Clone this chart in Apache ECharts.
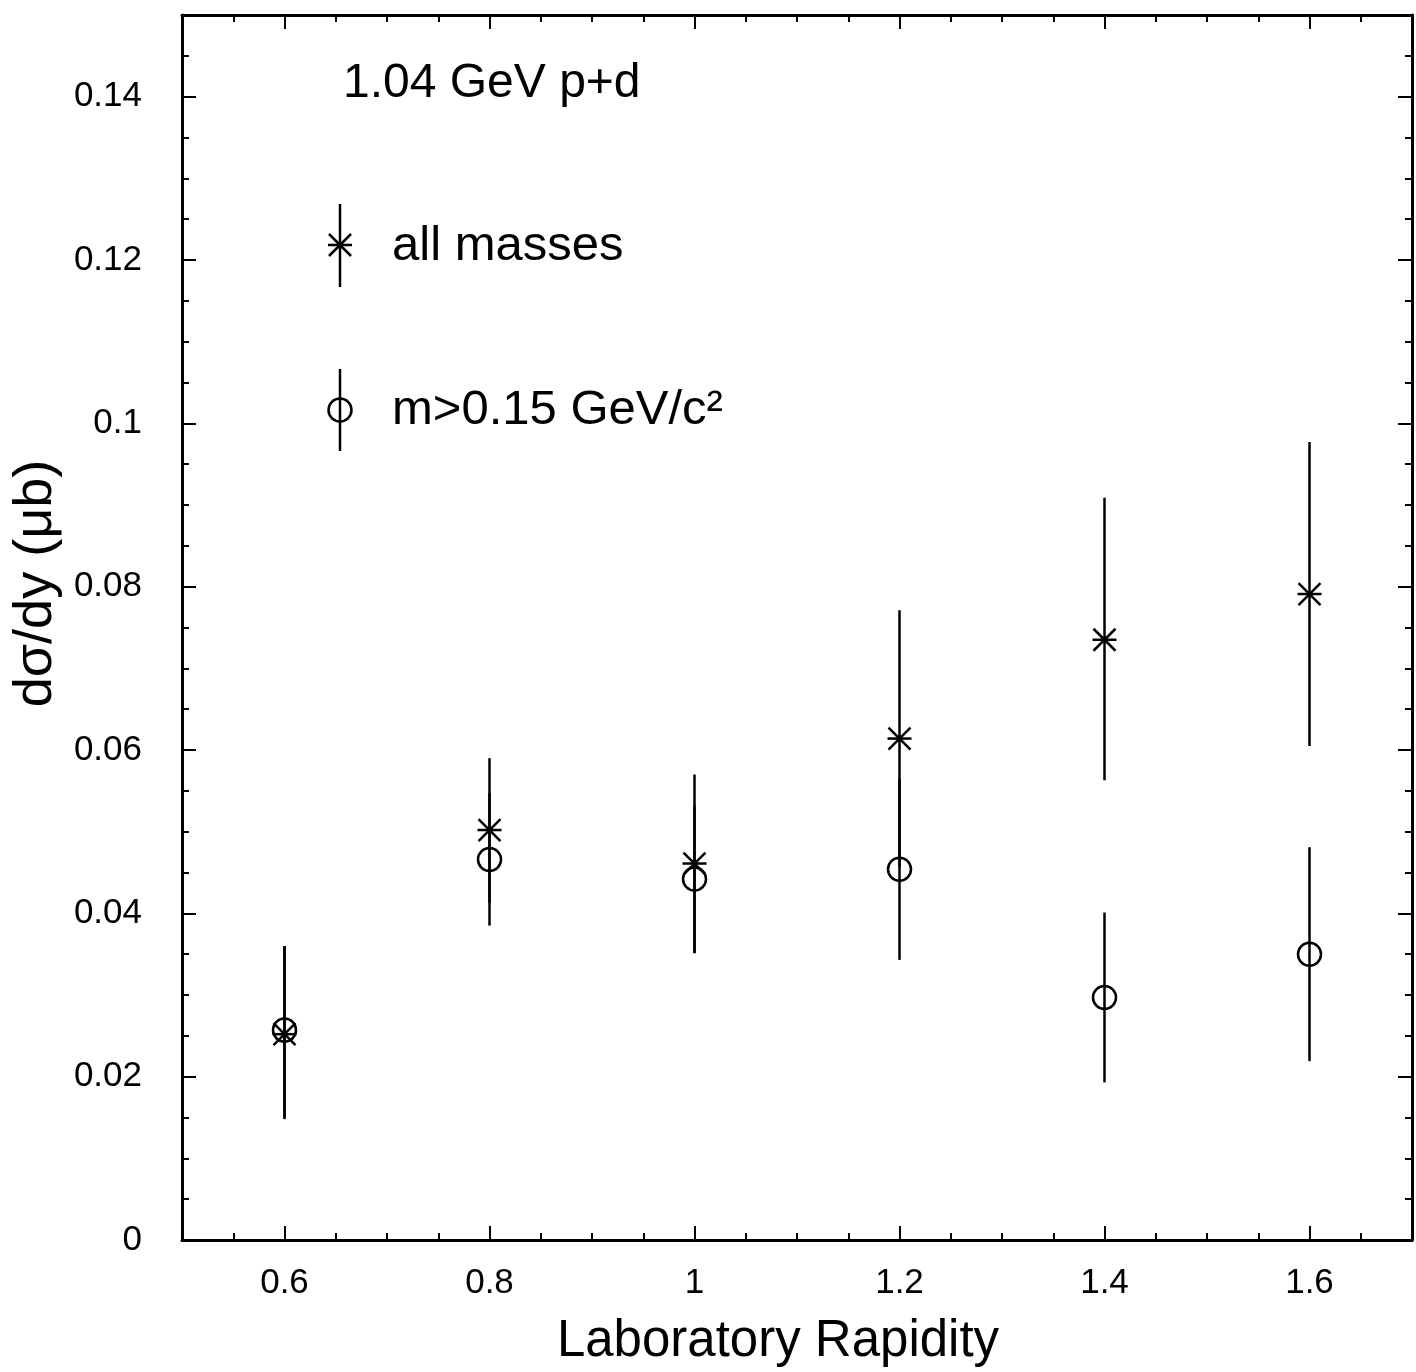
<!DOCTYPE html>
<html>
<head>
<meta charset="utf-8">
<script src="https://cdn.jsdelivr.net/npm/echarts@6/dist/echarts.min.js"></script>
<style>
html,body{margin:0;padding:0;background:#fff;}
#chart{width:1416px;height:1372px;}
</style>
</head>
<body>
<div id="chart"></div>
<script>
// ---- data ----
const rapidity = [0.6, 0.8, 1.0, 1.2, 1.4, 1.6];
const allMasses = [0.0252, 0.0502, 0.0461, 0.0614, 0.0735, 0.0791];
const allMassesLow = [0.0148, 0.0413, 0.0351, 0.0457, 0.0563, 0.0605];
const allMassesHigh = [0.0360, 0.0590, 0.0570, 0.0771, 0.0909, 0.0977];
const heavy = [0.0257, 0.0466, 0.0442, 0.0454, 0.0297, 0.0350];
const heavyLow = [0.0150, 0.0385, 0.0352, 0.0343, 0.0193, 0.0219];
const heavyHigh = [0.0360, 0.0547, 0.0532, 0.0565, 0.0401, 0.0481];
const xTickLabels = [0.6, 0.8, 1.0, 1.2, 1.4, 1.6];
const yTickLabels = [0, 0.02, 0.04, 0.06, 0.08, 0.1, 0.12, 0.14];
const titleText = '1.04 GeV p+d';
const legendAll = 'all masses';
const legendHeavy = 'm>0.15 GeV/c\u00B2';

const FONT = "'Liberation Sans', Arial, sans-serif";
const LW = 2.5;

function fmt(v){ return String(+(+v).toFixed(3)); }

function makeRender(kind){
  return function(params, api){
    const x = api.value(0), y = api.value(1), lo = api.value(2), hi = api.value(3);
    const p = api.coord([x, y]);
    const pl = api.coord([x, lo]);
    const ph = api.coord([x, hi]);
    const st = {stroke:'#000', lineWidth: LW, fill: null};
    const ch = [{type:'line', shape:{x1:p[0], y1:pl[1], x2:p[0], y2:ph[1]}, style:st}];
    if (kind === 'star') {
      const s = 12, d = 11;
      ch.push({type:'line', shape:{x1:p[0]-s, y1:p[1], x2:p[0]+s, y2:p[1]}, style:st});
      ch.push({type:'line', shape:{x1:p[0]-d, y1:p[1]-d, x2:p[0]+d, y2:p[1]+d}, style:st});
      ch.push({type:'line', shape:{x1:p[0]-d, y1:p[1]+d, x2:p[0]+d, y2:p[1]-d}, style:st});
    } else {
      ch.push({type:'circle', shape:{cx:p[0], cy:p[1], r:11.5}, style:{stroke:'#000', lineWidth:LW, fill:'none'}});
    }
    return {type:'group', children: ch};
  };
}

const starData = rapidity.map((x,i)=>[x, allMasses[i], allMassesLow[i], allMassesHigh[i]]);
const circData = rapidity.map((x,i)=>[x, heavy[i], heavyLow[i], heavyHigh[i]]);

const axisLineStyle = {show:true, onZero:false, lineStyle:{color:'#000', width:3}};
const noLine = {show:false, onZero:false};
const tickStyle = {color:'#000', width:2};

function xAxisPair(pos, withLabels){
  const minor = {type:'value', gridIndex:0, position:pos, min:0.5, max:1.7, interval:0.05,
    axisLine:axisLineStyle, axisTick:{show:true, inside:true, length:7, lineStyle:tickStyle},
    axisLabel:{show:false}, splitLine:{show:false}};
  const major = {type:'value', gridIndex:0, position:pos, min:0.5, max:1.7, interval:0.05,
    axisLine:noLine, axisTick:{show:true, inside:true, length:14, customValues:xTickLabels, lineStyle:tickStyle},
    axisLabel: withLabels ? {show:true, customValues:xTickLabels, formatter:fmt, color:'#000', fontSize:35, fontFamily:FONT, margin:26} : {show:false},
    splitLine:{show:false}};
  if (withLabels) {
    major.name = 'Laboratory Rapidity';
    major.nameLocation = 'middle';
    major.nameGap = 76;
    major.nameTextStyle = {color:'#000', fontSize:51, fontFamily:FONT, padding:[0,38,0,0]};
  }
  return [minor, major];
}
function yAxisPair(pos, withLabels){
  const minor = {type:'value', gridIndex:0, position:pos, min:0, max:0.15, interval:0.005,
    axisLine:axisLineStyle, axisTick:{show:true, inside:true, length:7, lineStyle:tickStyle},
    axisLabel:{show:false}, splitLine:{show:false}};
  const major = {type:'value', gridIndex:0, position:pos, min:0, max:0.15, interval:0.005,
    axisLine:noLine, axisTick:{show:true, inside:true, length:14, customValues:yTickLabels, lineStyle:tickStyle},
    axisLabel: withLabels ? {show:true, customValues:yTickLabels, formatter:fmt, color:'#000', fontSize:35, fontFamily:FONT, margin:40} : {show:false},
    splitLine:{show:false}};
  if (withLabels) {
    major.name = 'd\u03C3/dy (\u03BCb)';
    major.nameLocation = 'middle';
    major.nameGap = 114;
    major.nameRotate = 90;
    major.nameTextStyle = {color:'#000', fontSize:54, fontFamily:FONT, padding:[0,0,0,88]};
  }
  return [minor, major];
}

const chart = echarts.init(document.getElementById('chart'), null, {renderer:'canvas'});

function starIcon(cx, cy, top, bottom){
  const st = {stroke:'#000', lineWidth:LW};
  const s = 12, d = 11;
  return [
    {type:'line', shape:{x1:cx, y1:top, x2:cx, y2:bottom}, style:st},
    {type:'line', shape:{x1:cx-s, y1:cy, x2:cx+s, y2:cy}, style:st},
    {type:'line', shape:{x1:cx-d, y1:cy-d, x2:cx+d, y2:cy+d}, style:st},
    {type:'line', shape:{x1:cx-d, y1:cy+d, x2:cx+d, y2:cy-d}, style:st}
  ];
}
function circIcon(cx, cy, top, bottom){
  return [
    {type:'line', shape:{x1:cx, y1:top, x2:cx, y2:bottom}, style:{stroke:'#000', lineWidth:LW}},
    {type:'circle', shape:{cx:cx, cy:cy, r:11.5}, style:{stroke:'#000', lineWidth:LW, fill:'none'}}
  ];
}

chart.setOption({
  backgroundColor:'#fff',
  animation:false,
  grid:{left:182, right:4, top:15, bottom:129, containLabel:false},
  xAxis: [...xAxisPair('bottom', true), ...xAxisPair('top', false)],
  yAxis: [...yAxisPair('left', true), ...yAxisPair('right', false)],
  series:[
    {type:'custom', name:legendAll, xAxisIndex:0, yAxisIndex:0, renderItem:makeRender('star'), data:starData, encode:{x:0, y:1}},
    {type:'custom', name:legendHeavy, xAxisIndex:0, yAxisIndex:0, renderItem:makeRender('circle'), data:circData, encode:{x:0, y:1}}
  ],
  graphic:[
    {type:'text', left:343, top:60, style:{text:titleText, fill:'#000', font:'48px ' + FONT}},
    ...starIcon(340, 245, 204, 287),
    {type:'text', left:392, top:222, style:{text:legendAll, fill:'#000', font:'49px ' + FONT}},
    ...circIcon(340, 410, 369, 451),
    {type:'text', left:392, top:386, style:{text:legendHeavy, fill:'#000', font:'49px ' + FONT}}
  ]
});
</script>
</body>
</html>
